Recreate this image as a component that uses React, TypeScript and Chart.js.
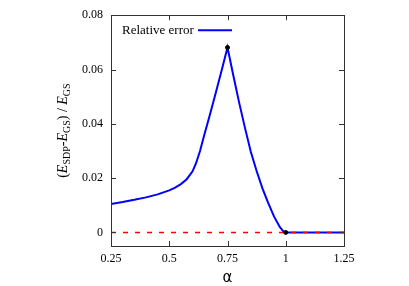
import React, { useEffect, useRef } from "react";
import { Chart, registerables } from "chart.js";

Chart.register(...registerables);

const alphaValues = [
  0.25, 0.3, 0.35, 0.4, 0.45, 0.5, 0.525, 0.55, 0.575, 0.6, 0.615, 0.632, 0.65,
  0.675, 0.7, 0.725, 0.75, 0.775, 0.8, 0.825, 0.85, 0.875, 0.9, 0.925, 0.95,
  0.975, 0.99, 1.0, 1.1, 1.25,
];
const relError = [
  0.0105, 0.0112, 0.012, 0.0129, 0.014, 0.0155, 0.0165, 0.0178, 0.0196, 0.0225,
  0.0255, 0.03, 0.0358, 0.0435, 0.0515, 0.0597, 0.0681, 0.0578, 0.0478, 0.0385,
  0.0297, 0.0226, 0.0162, 0.0108, 0.0058, 0.0019, 0.0004, 0, 0, 0,
];
const markedAlpha = [0.75, 1.0];
const markedError = [0.0681, 0];
const zeroLineAlpha = [0.25, 1.25];
const zeroLineValue = [0, 0];
const xTicks = [0.25, 0.5, 0.75, 1, 1.25];
const yTicks = [0, 0.02, 0.04, 0.06, 0.08];
const legendLabel = "Relative error";
const xTitle = "α";

const serif = "'Liberation Serif', 'DejaVu Serif', serif";

const framePlugin = {
  id: "frameTicks",
  afterDatasetsDraw(chart: any) {
    const { ctx, chartArea: a, scales } = chart;
    const xs = scales.x;
    const ys = scales.y;
    ctx.save();
    ctx.strokeStyle = "#333";
    ctx.lineWidth = 1;
    ctx.beginPath();
    const tl = 5;
    xTicks.forEach((v) => {
      const px = Math.round(xs.getPixelForValue(v)) + 0.5;
      ctx.moveTo(px, a.bottom);
      ctx.lineTo(px, a.bottom - tl);
      ctx.moveTo(px, a.top);
      ctx.lineTo(px, a.top + tl);
    });
    yTicks.forEach((v) => {
      const py = Math.round(ys.getPixelForValue(v)) + 0.5;
      ctx.moveTo(a.left, py);
      ctx.lineTo(a.left + tl, py);
      ctx.moveTo(a.right, py);
      ctx.lineTo(a.right - tl, py);
    });
    ctx.stroke();
    ctx.strokeRect(
      Math.round(a.left) + 0.5,
      Math.round(a.top) + 0.5,
      Math.round(a.right - a.left),
      Math.round(a.bottom - a.top)
    );

    // legend
    ctx.fillStyle = "#000";
    ctx.font = `13px ${serif}`;
    ctx.textBaseline = "middle";
    ctx.textAlign = "left";
    ctx.fillText(legendLabel, a.left + 11, a.top + 15);
    ctx.strokeStyle = "#0000ff";
    ctx.lineWidth = 2;
    ctx.beginPath();
    ctx.moveTo(a.left + 87, a.top + 15);
    ctx.lineTo(a.left + 121, a.top + 15);
    ctx.stroke();

    // x title
    ctx.fillStyle = "#000";
    ctx.font = "15px 'DejaVu Sans', sans-serif";
    ctx.textAlign = "center";
    ctx.fillText(xTitle, (a.left + a.right) / 2, 278);

    // y title
    ctx.translate(62, (a.top + a.bottom) / 2);
    ctx.rotate(-Math.PI / 2);
    const parts: [string, string, boolean][] = [
      ["(", "n", false],
      ["E", "i", false],
      ["SDP", "n", true],
      ["-", "n", false],
      ["E", "i", false],
      ["GS", "n", true],
      [") / ", "n", false],
      ["E", "i", false],
      ["GS", "n", true],
    ];
    const fontFor = (style: string, sub: boolean) =>
      `${style === "i" ? "italic " : ""}${sub ? 10 : 14}px ${serif}`;
    let total = 0;
    parts.forEach(([t, s, sub]) => {
      ctx.font = fontFor(s, sub);
      total += ctx.measureText(t).width;
    });
    let x = -total / 2;
    ctx.textAlign = "left";
    ctx.textBaseline = "alphabetic";
    parts.forEach(([t, s, sub]) => {
      ctx.font = fontFor(s, sub);
      ctx.fillText(t, x, sub ? 8 : 5);
      x += ctx.measureText(t).width;
    });
    ctx.restore();
  },
};

export default function App() {
  const ref = useRef<HTMLCanvasElement>(null);
  useEffect(() => {
    if (!ref.current) return;
    const chart = new Chart(ref.current, {
      type: "line",
      data: {
        datasets: [
          {
            data: markedAlpha.map((x, i) => ({ x, y: markedError[i] })),
            showLine: false,
            pointRadius: 2,
            pointBackgroundColor: "#000",
            pointBorderColor: "#000",
            order: -1,
          },
          {
            data: zeroLineAlpha.map((x, i) => ({ x, y: zeroLineValue[i] })),
            borderColor: "#ff0000",
            borderWidth: 1.5,
            borderDash: [5, 7],
            pointRadius: 0,
            order: 0,
          },
          {
            data: alphaValues.map((x, i) => ({ x, y: relError[i] })),
            borderColor: "#0000ff",
            borderWidth: 2,
            pointRadius: 0,
            tension: 0,
            order: 1,
          },
        ],
      },
      options: {
        responsive: false,
        animation: false,
        layout: { padding: { left: 0, top: 12, right: 65, bottom: 0 } },
        plugins: { legend: { display: false }, tooltip: { enabled: false } },
        scales: {
          x: {
            type: "linear",
            min: 0.25,
            max: 1.25,
            grid: { display: false, drawTicks: false },
            border: { display: false },
            afterFit: (s: any) => {
              s.height = 40;
            },
            afterBuildTicks: (s: any) => {
              s.ticks = xTicks.map((v) => ({ value: v }));
            },
            ticks: {
              padding: 6,
              color: "#000",
              font: { family: serif, size: 12 },
              callback: (v: any) => String(v),
              maxRotation: 0,
            },
          },
          y: {
            type: "linear",
            min: -0.005,
            max: 0.08,
            grid: { display: false, drawTicks: false },
            border: { display: false },
            afterFit: (s: any) => {
              s.width = 111;
            },
            afterBuildTicks: (s: any) => {
              s.ticks = yTicks.map((v) => ({ value: v }));
            },
            ticks: {
              padding: 8,
              color: "#000",
              font: { family: serif, size: 12 },
              callback: (v: any) => String(v),
            },
          },
        },
      },
      plugins: [framePlugin],
    });
    return () => chart.destroy();
  }, []);
  return (
    <div style={{ position: "fixed", left: 0, top: 0, width: 409, height: 286, background: "#fff" }}>
      <canvas ref={ref} width={409} height={286} />
    </div>
  );
}
